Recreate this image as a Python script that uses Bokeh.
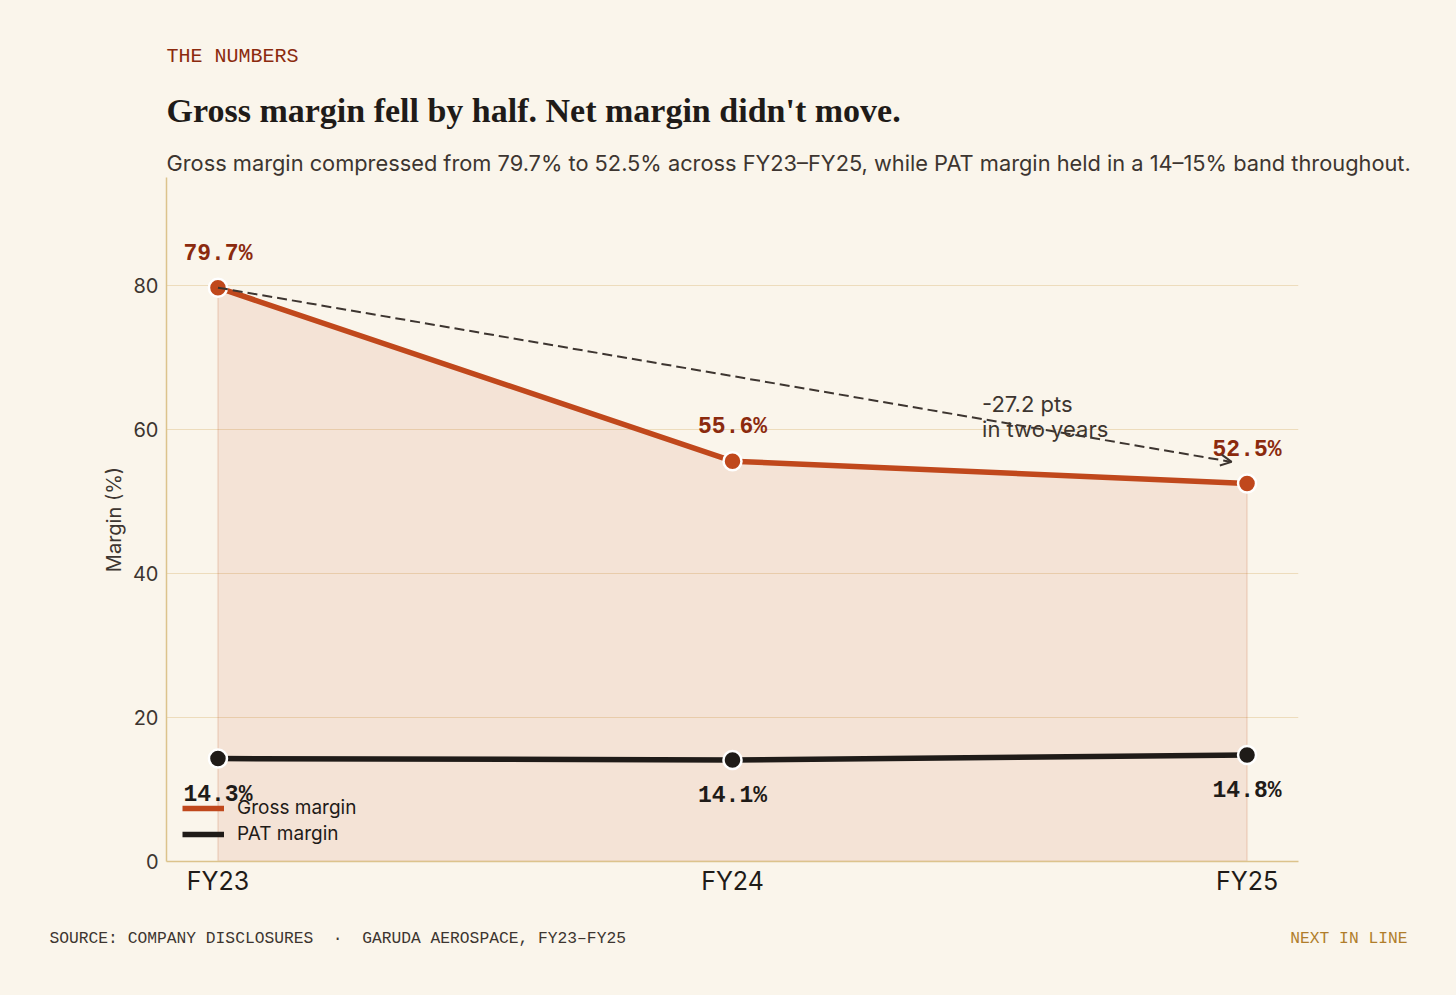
from bokeh.plotting import figure
from bokeh.layouts import column
from bokeh.models import Range1d, FixedTicker, Label, Legend, LegendItem, Arrow, OpenHead
from bokeh.core.properties import value
from bokeh.embed import file_html
from bokeh.resources import INLINE

# ---- data ----
years = ["FY23", "FY24", "FY25"]
gross = [79.7, 55.6, 52.5]
pat = [14.3, 14.1, 14.8]
y_ticks = [0, 20, 40, 60, 80]

BG = "#faf5eb"
RUST = "#c0481c"
RUST_DARK = "#8b2a0e"
INK = "#1f1b18"
SOFT = "#3d3530"
TAN = "#dcc38c"
GRID = "#eddcbc"

W = 1456
HEAD_H, MAIN_H, FOOT_H = 177, 733, 85
xs = list(range(len(years)))


def no_align(f):
    try:
        f.frame_align = False
    except Exception:
        pass


def blank(h, y0):
    f = figure(width=W, height=h, output_backend="svg", toolbar_location=None,
               x_range=Range1d(0, W), y_range=Range1d(y0 + h, y0),
               min_border=0, background_fill_color=BG, border_fill_color=BG,
               outline_line_color=None)
    f.axis.visible = False
    f.grid.visible = False
    no_align(f)
    return f


def lab(f, x, y, text, font, size, color, style="normal", align="left"):
    f.add_layout(Label(x=x, y=y, text=text, text_font=font, text_font_size=size,
                       text_color=color, text_font_style=style, text_align=align,
                       text_baseline="middle"))


# ---- header ----
head = blank(HEAD_H, 0)
lab(head, 166, 56, "THE NUMBERS", "Liberation Mono", "20px", RUST_DARK)
lab(head, 166, 110, "Gross margin fell by half. Net margin didn't move.", "Liberation Serif", "34px", INK, style="bold")
lab(head, 166, 162, "Gross margin compressed from 79.7% to 52.5% across FY23\u2013FY25, while PAT margin held in a 14\u201315% band throughout.",
    "Inter", "21.8px", SOFT)

# ---- main chart ----
p = figure(width=W, height=MAIN_H, output_backend="svg", toolbar_location=None,
           x_range=Range1d(-0.1, 2.1), y_range=Range1d(0, 95),
           min_border_left=166, min_border_right=158, min_border_top=0, min_border_bottom=49,
           background_fill_color=BG, border_fill_color=BG, outline_line_color=None)
no_align(p)

px = [xs[0]] + xs + [xs[-1]]
py = [0] + gross + [0]
p.patch(px, py, fill_color=RUST, fill_alpha=0.1, line_color=RUST, line_alpha=0.12, line_width=2)

delta = round(gross[-1] - gross[0], 1)
p.add_layout(Arrow(end=OpenHead(size=11, line_color=SOFT, line_width=2),
                   x_start=xs[0], y_start=gross[0], x_end=xs[-1] - 0.03, y_end=gross[-1] + 3,
                   line_color=SOFT, line_width=2, line_dash="10 5"))

g_line = p.line(xs, gross, line_color=RUST, line_width=5.5)
p.scatter(xs, gross, size=18, fill_color=RUST, line_color="white", line_width=2.5)
p_line = p.line(xs, pat, line_color=INK, line_width=5.5)
p.scatter(xs, pat, size=18, fill_color=INK, line_color="white", line_width=2.5)

mono = value("Liberation Mono")
p.text(x=xs, y=gross, text=[f"{v}%" for v in gross], text_font=mono, text_font_style="bold",
       text_font_size="23px", text_color=RUST_DARK, text_align="center", text_baseline="middle",
       y_offset=-34)
p.text(x=xs, y=pat, text=[f"{v}%" for v in pat], text_font=mono, text_font_style="bold",
       text_font_size="23px", text_color=INK, text_align="center", text_baseline="middle",
       y_offset=36)

p.add_layout(Label(x=1.485, y=63.6, text=f"{delta} pts", text_font="Inter",
                   text_font_size="22px", text_color=SOFT, text_baseline="alphabetic"))
p.add_layout(Label(x=1.485, y=60.1, text="in two years", text_font="Inter",
                   text_font_size="22px", text_color=SOFT, text_baseline="alphabetic"))

p.yaxis.ticker = FixedTicker(ticks=y_ticks)
p.yaxis.axis_line_color = TAN
p.yaxis.axis_line_width = 1.5
p.yaxis.major_tick_line_color = None
p.yaxis.minor_tick_line_color = None
p.yaxis.major_label_text_font = "Inter"
p.yaxis.major_label_text_font_size = "20px"
p.yaxis.major_label_text_color = SOFT
p.yaxis.major_label_standoff = 2
p.yaxis.axis_label = "Margin (%)"
p.yaxis.axis_label_text_font = "Inter"
p.yaxis.axis_label_text_font_style = "normal"
p.yaxis.axis_label_text_font_size = "20px"
p.yaxis.axis_label_text_color = SOFT
p.yaxis.axis_label_standoff = 4

p.xaxis.ticker = FixedTicker(ticks=xs)
p.xaxis.major_label_overrides = {i: y for i, y in zip(xs, years)}
p.xaxis.axis_line_color = TAN
p.xaxis.axis_line_width = 1.5
p.xaxis.major_tick_line_color = None
p.xaxis.minor_tick_line_color = None
p.xaxis.major_label_text_font = "Inter"
p.xaxis.major_label_text_font_size = "25px"
p.xaxis.major_label_text_color = INK
p.xaxis.major_label_standoff = -2

p.xgrid.visible = False
p.ygrid.ticker = FixedTicker(ticks=y_ticks[1:])
p.ygrid.grid_line_color = GRID
p.ygrid.grid_line_width = 1

legend = Legend(items=[LegendItem(label="Gross margin", renderers=[g_line]),
                       LegendItem(label="PAT margin", renderers=[p_line])],
                location=(16, 16), orientation="vertical",
                background_fill_alpha=0, border_line_color=None,
                label_text_font="Inter", label_text_font_size="19px", label_text_color=INK,
                glyph_width=42, glyph_height=20, label_height=20, spacing=3,
                padding=0, margin=0, label_standoff=13)
p.add_layout(legend)

# ---- footer ----
foot = blank(FOOT_H, HEAD_H + MAIN_H)
NB = "\u00a0"
lab(foot, 49, 938, f"SOURCE: COMPANY DISCLOSURES{NB}{NB}\u00b7{NB}{NB}GARUDA AEROSPACE, FY23\u2013FY25",
    "Liberation Mono", "16.3px", SOFT)
lab(foot, 1407, 938, "NEXT IN LINE", "Liberation Mono", "16.3px", "#b07d2a", align="right")

layout = column(head, p, foot, spacing=0, styles={"background-color": BG})
open("out.html", "w").write(file_html(layout, INLINE))
